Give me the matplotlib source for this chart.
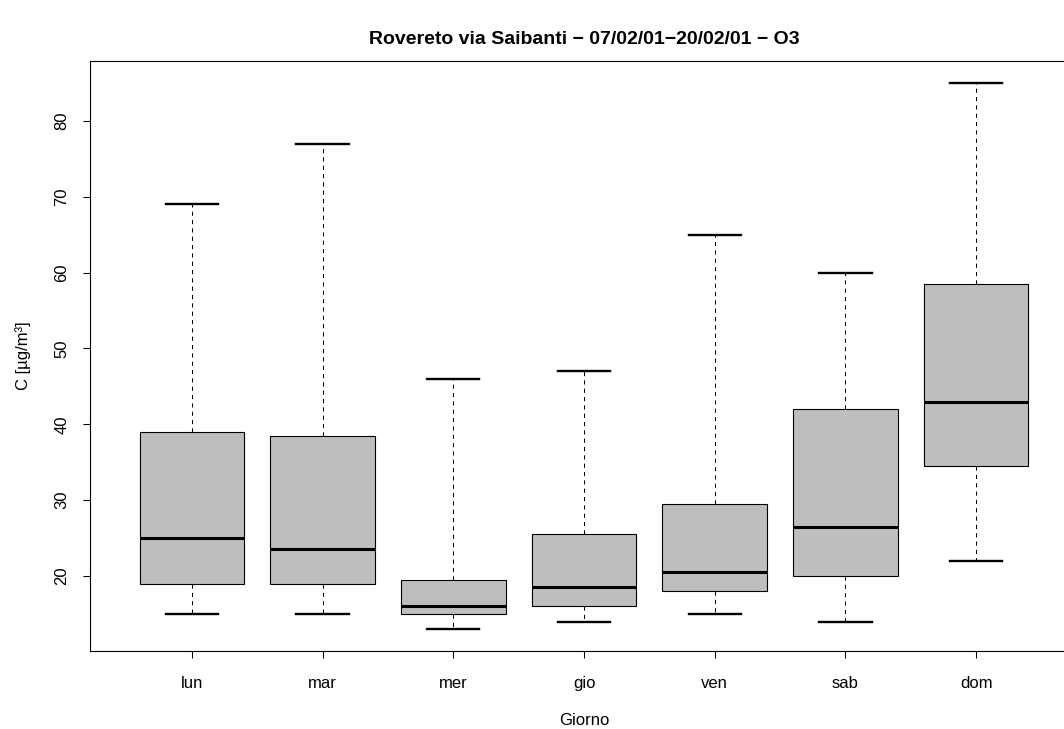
import matplotlib
matplotlib.use("Agg")
import matplotlib.pyplot as plt

plt.rcParams['font.family'] = ['Liberation Sans', 'DejaVu Sans']

# dati
giorni = ["lun", "mar", "mer", "gio", "ven", "sab", "dom"]
whislo = [15, 15, 13, 14, 15, 14, 22]
q1 = [19, 19, 15, 16, 18, 20, 34.5]
med = [25, 23.5, 16, 18.5, 20.5, 26.5, 43]
q3 = [39, 38.5, 19.5, 25.5, 29.5, 42, 58.5]
whishi = [69, 77, 46, 47, 65, 60, 85]
yticks = [20, 30, 40, 50, 60, 70, 80]

stats = []
for i in range(len(giorni)):
    stats.append({"label": giorni[i], "whislo": whislo[i], "q1": q1[i],
                  "med": med[i], "q3": q3[i], "whishi": whishi[i], "fliers": []})

fig = plt.figure(figsize=(10.64, 7.29), dpi=100)
ax = fig.add_axes([90 / 1064, 78 / 729, 988 / 1064, 590 / 729])

ax.bxp(stats, positions=range(1, 8), widths=0.8, patch_artist=True,
       boxprops=dict(facecolor="#bebebe", edgecolor="black", linewidth=0.8),
       medianprops=dict(color="black", linewidth=2.2, solid_capstyle="butt"),
       whiskerprops=dict(color="black", linewidth=0.75, linestyle=(0, (4, 4))),
       capprops=dict(color="black", linewidth=1.7), capwidths=0.4)

ax.set_xlim(0.22, 7.78)
lo = min(whislo)
hi = max(whishi)
ax.set_ylim(lo - 0.04 * (hi - lo), hi + 0.04 * (hi - lo))
ax.set_xticks(range(1, 8))
ax.set_xticklabels(giorni)
ax.set_yticks(yticks)
ax.set_yticklabels([str(v) for v in yticks], rotation=90, va="center")
ax.tick_params(axis="x", length=5, width=0.75, labelsize=12, pad=13)
ax.tick_params(axis="y", length=5, width=0.75, labelsize=12, pad=10)
for s in ax.spines.values():
    s.set_linewidth(0.8)

ax.set_xlabel("Giorno", fontsize=12, labelpad=16)
ax.set_ylabel("C [µg/m³]", fontsize=12, labelpad=17)
ax.set_title("Rovereto via Saibanti \u2212 07/02/01\u221220/02/01 \u2212 O3",
             fontsize=14, fontweight="bold", pad=12)

fig.savefig("out.png", dpi=100)
